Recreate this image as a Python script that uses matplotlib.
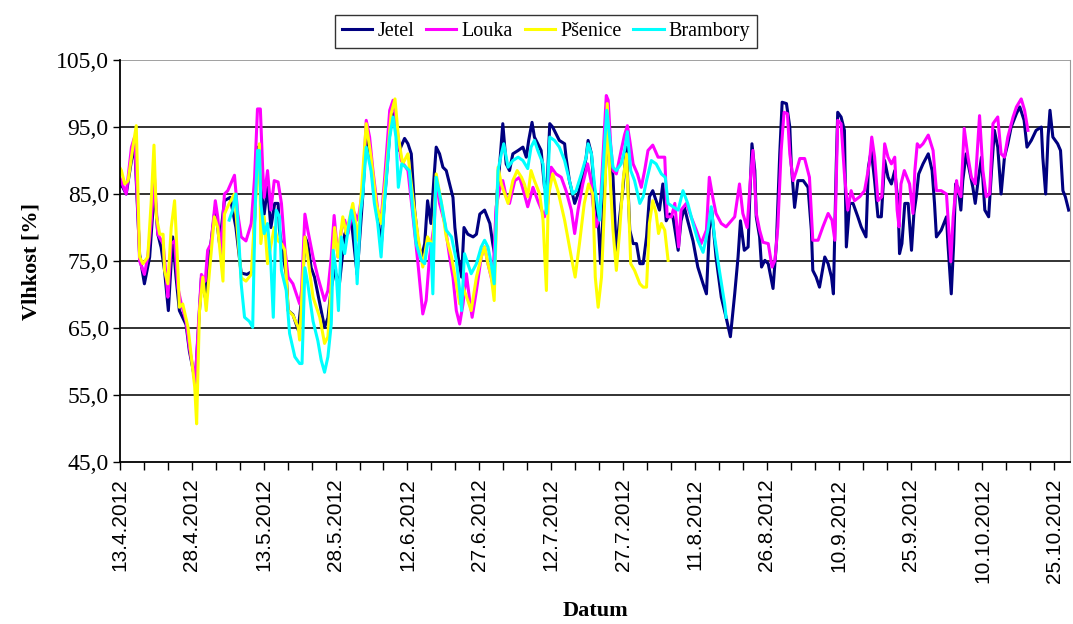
#!/usr/bin/env python3
"""
Vlhkost podle plodin - line chart, duben az rijen 2012.
"""

import datetime as dt
import matplotlib
matplotlib.use("Agg")
import matplotlib.pyplot as plt
import matplotlib.dates as mdates
from matplotlib.ticker import FixedLocator, FuncFormatter

# days are counted from 13.4.2012
start_date = dt.date(2012, 4, 13)

jetel_days = [0.0, 0.6, 1.3, 2.4, 3.05, 3.4, 4.1, 5.1, 6.2, 7.2, 7.9, 8.6, 9.3, 10.1, 11.0, 11.7, 12.4, 13.8, 14.5, 15.2,
              15.7, 16.3, 17.0, 17.8, 18.7, 19.9, 20.8, 21.8, 23.0, 24.2, 25.3, 26.5, 27.7, 28.3, 28.8, 29.4, 30.1, 30.8,
              31.5, 32.3, 33.0, 33.3, 34.0, 34.7, 35.1, 36.1, 37.2, 38.0, 38.6, 39.2, 39.9, 40.6, 42.0, 42.7, 43.4, 44.1,
              44.8, 45.8, 46.9, 48.3, 49.5, 50.7, 51.4, 52.4, 53.8, 54.5, 55.2, 56.3, 57.0, 57.6, 58.3, 59.4, 60.1, 60.8,
              61.5, 62.2, 62.9, 63.6, 64.2, 64.9, 65.5, 66.0, 66.7, 67.4, 68.1, 68.8, 69.5, 69.9, 70.6, 71.3, 71.8, 72.6,
              73.7, 74.4, 75.1, 76.1, 77.2, 77.8, 78.2, 78.7, 79.2, 79.9, 80.6, 81.3, 82.0, 83.1, 84.1, 84.8, 85.3, 86.0,
              86.5, 87.2, 87.9, 88.6, 89.2, 89.7, 90.3, 91.0, 91.7, 92.8, 93.1, 93.8, 94.9, 95.6, 96.6, 97.3, 97.7, 98.4,
              99.1, 99.8, 100.3, 100.8, 101.5, 102.2, 102.9, 103.6, 104.3, 105.0, 105.7, 106.4, 107.1, 107.8, 108.5,
              109.2, 109.9, 110.5, 111.2, 111.9, 112.6, 113.3, 114.0, 114.7, 115.4, 116.5, 117.1, 117.8, 118.5, 119.6,
              120.6, 121.7, 122.4, 123.0, 123.5, 124.4, 125.5, 126.5, 127.4, 128.3, 129.0, 129.5, 130.3, 131.1, 131.4,
              131.9, 132.5, 132.8, 133.5, 133.9, 134.6, 135.3, 136.3, 137.0, 137.7, 138.2, 139.1, 139.8, 140.1, 140.8,
              141.5, 142.6, 143.6, 144.3, 144.6, 145.3, 146.0, 147.1, 147.8, 148.5, 148.9, 149.5, 149.8, 150.5, 151.2,
              151.6, 152.3, 153.0, 154.0, 154.7, 155.7, 156.2, 156.8, 157.5, 158.2, 158.9, 159.6, 160.3, 161.0, 161.7,
              162.4, 162.7, 163.2, 163.8, 164.5, 165.2, 165.7, 166.2, 166.7, 167.6, 168.7, 169.5, 170.0, 170.4, 171.4,
              172.5, 172.8, 173.5, 174.0, 174.4, 174.9, 175.5, 175.9, 176.6, 177.3, 178.0, 178.5, 179.2, 179.8, 180.5,
              181.3, 181.9, 182.5, 183.2, 183.9, 184.6, 185.3, 186.0, 187.1, 187.8, 188.7, 189.3, 190.2, 191.2, 192.3,
              192.6, 193.2, 193.7, 194.1, 194.7, 195.7, 196.3, 196.8, 197.3, 198.0]
jetel_vals = [86.5, 86, 85, 90, 92.5, 87, 76, 71.6, 75.6, 86, 79, 77, 73.6, 67.6, 78.6, 72.6, 67.6, 65.5, 61.5, 59,
              57, 64, 72.5, 69.6, 76, 83, 77.5, 84, 84.5, 80, 73.2, 73, 73.5, 85, 92, 86, 82, 86,
              80, 83.6, 83.6, 79.6, 76, 73, 67.6, 67, 64.7, 70, 78.6, 77.6, 74, 72.6, 67.6, 65.1, 66.5, 71,
              73.6, 71.6, 79, 81, 73, 85, 94, 89, 82, 77, 84, 94, 97, 95, 91.5, 93.3, 92.5, 91,
              82.6, 78, 75.6, 77.6, 84, 80.6, 87, 92, 91, 89, 88.5, 86.5, 84.5, 80, 75.6, 72.6, 80, 79,
              78.6, 79, 82, 82.6, 80.6, 77.6, 76, 85, 89, 95.5, 89.5, 88.5, 91, 91.5, 92, 90.5, 93, 95.7,
              93.5, 92.5, 91.5, 86, 87, 95.5, 95, 94, 93, 92.5, 90.5, 87, 83.6, 85, 87.5, 90.5, 93, 91,
              84.6, 81.1, 74.6, 81.6, 91, 93, 87.5, 76.1, 81.6, 86, 92, 79.6, 77.6, 77.6, 74.6,
              74.6, 78.6, 84.6, 85.5, 84, 82.6, 86.5, 81, 82, 81.6, 76.6, 81, 83, 81, 78,
              74.1, 71.6, 70.1, 79.6, 82.6, 75.6, 69.6, 66.6, 63.7, 70.1, 75.6, 81, 76.6, 77.1, 83.6,
              92.5, 88.5, 81.6, 78.6, 74.1, 75.1, 74.6, 70.9, 77.6, 91, 98.7, 98.5, 95, 89.5, 83,
              87, 87, 86, 79.6, 73.6, 72.6, 71.1, 75.6, 74.6, 72.6, 70.1, 89.5, 97.2, 96.5, 94.5,
              77.1, 83.6, 83.6, 81.6, 80.1, 78.6, 89, 91.5, 87, 81.6, 81.6, 90, 87.5, 86.5, 88.5,
              83.6, 76.1, 77.6, 83.6, 83.6, 76.6, 82.1, 84.6, 88, 89.5, 91, 88.5, 83.6, 78.6, 79.6,
              81.6, 77.6, 70.1, 77.6, 86.5, 86, 82.6, 87, 91, 88.5, 86, 83.6, 87.5, 90.5, 82.6,
              81.6, 88.5, 94.5, 92, 85, 90.5, 92.5, 95, 97, 98, 96, 92, 93, 94.5, 95,
              90.5, 85, 93.5, 97.5, 93.5, 92.5, 91.5, 85.5, 84.6, 82.6]

louka_days = [0.0, 1.3, 2.4, 3.05, 3.75, 4.1, 5.1, 5.8, 6.5, 7.2, 7.9, 9.0, 9.65, 10.0, 10.7, 11.4, 12.1, 12.8, 13.8,
              14.5, 15.2, 15.7, 16.3, 17.0, 17.8, 18.3, 19.0, 19.9, 20.4, 21.1, 21.8, 22.5, 23.9, 24.6, 25.3, 26.3,
              27.4, 28.1, 28.7, 29.3, 29.8, 30.1, 30.8, 31.5, 32.2, 33.0, 33.7, 34.4, 35.1, 36.1, 36.8, 37.5, 37.9,
              38.6, 39.2, 40.3, 41.3, 42.7, 43.4, 44.1, 44.7, 45.5, 46.2, 46.9, 47.6, 48.6, 49.7, 50.7, 51.4, 52.1,
              52.8, 53.8, 54.5, 55.2, 56.3, 57.0, 57.6, 58.7, 60.1, 61.1, 62.2, 63.2, 63.9, 64.6, 65.6, 66.0, 66.7,
              67.8, 68.8, 69.5, 70.2, 70.9, 71.6, 72.3, 73.0, 73.5, 74.4, 75.4, 76.1, 76.8, 77.8, 78.5, 79.2, 79.9,
              80.6, 81.3, 82.4, 83.4, 84.4, 85.1, 86.2, 87.2, 88.6, 89.3, 90.0, 91.0, 92.1, 93.1, 94.2, 94.9, 95.6,
              96.6, 97.6, 98.3, 98.7, 99.4, 100.1, 100.8, 101.5, 101.9, 102.4, 102.9, 103.6, 104.6, 105.3, 105.9,
              106.4, 107.1, 108.0, 108.8, 109.5, 110.2, 111.2, 112.3, 113.7, 114.2, 115.1, 115.8, 116.6, 117.1,
              118.2, 119.2, 120.3, 121.3, 122.4, 123.0, 123.7, 124.4, 125.5, 126.5, 128.3, 129.3, 130.0, 130.9,
              131.6, 132.1, 132.8, 133.5, 134.2, 135.3, 136.1, 136.7, 137.3, 138.0, 138.6, 139.3, 139.8, 140.5,
              141.2, 141.9, 142.9, 143.9, 144.6, 145.7, 146.7, 147.8, 148.6, 149.2, 149.8, 150.5, 151.2, 151.9,
              152.6, 153.3, 154.4, 155.4, 156.4, 156.9, 157.5, 158.2, 159.0, 159.6, 160.3, 161.0, 161.7, 162.2,
              162.6, 163.0, 163.7, 164.8, 165.5, 165.9, 166.4, 166.9, 167.6, 168.7, 169.7, 170.4, 171.4, 172.5,
              173.4, 173.9, 174.6, 174.9, 175.5, 176.2, 177.0, 177.7, 178.5, 179.4, 180.1, 180.8, 181.5, 182.2,
              183.2, 183.9, 184.6, 185.3, 186.4, 187.1, 188.1, 188.8, 189.5]
louka_vals = [87.4, 85, 92, 93.5, 82, 75, 73, 75.6, 80.6, 87.5, 79, 77.6, 72.6, 69.6, 77.6, 78, 71, 68.6, 66,
              62, 59.2, 56.7, 64.6, 73, 72, 76.6, 77.6, 84, 81.6, 76, 85, 85.5, 87.8, 82, 78.6, 78,
              80.6, 87.5, 97.7, 97.7, 88.5, 84.5, 88.5, 82.6, 87, 86.8, 83.6, 77, 72.6, 71.6, 70.1, 68.6, 70.6,
              82, 79.6, 75.6, 72.6, 69.1, 70.6, 75.6, 81.8, 75.6, 79.6, 81.1, 79.1, 82.6, 81.1, 86, 96, 93.5,
              88.5, 82.6, 81.1, 87, 97.5, 99, 96, 90, 88.5, 82, 74.6, 67.1, 69.1, 75.6, 80.6, 87, 83.6,
              80.6, 75.6, 72.6, 67.6, 65.6, 68.6, 73.1, 69.1, 66.6, 70.6, 75.6, 77.1, 74.6, 71.6, 83.1, 85.5, 87,
              84.6, 83.6, 87, 87.5, 85, 83.1, 86, 84, 81.6, 83.6, 89, 88, 87.5, 85.5, 82.6, 79.1, 82.6,
              86.5, 89.5, 87, 83.6, 80.1, 81.6, 90.5, 99.7, 99, 92.5, 88.5, 88, 91.5, 93.8, 95.2,
              93, 89.5, 88, 86, 88.5, 91.5, 92.3, 90.5, 90.5, 81.6, 81.6, 83.6, 77.1, 82.6,
              83.6, 81.6, 79.6, 77.6, 79.6, 87.5, 84.6, 82.1, 80.6, 80.1, 81.6, 86.5, 82.1, 80,
              87.5, 91.5, 82.1, 79.6, 77.8, 77.6, 74.1, 75.1, 80.1, 91.5, 97.2, 97, 91, 87,
              88.5, 90.3, 90.3, 87.5, 78.1, 78.1, 80.1, 82.1, 81.1, 78.1, 96, 95.5, 88, 82.6,
              85.5, 84, 84.6, 85.5, 89.5, 93.5, 90.5, 84, 84.6, 92.5, 90.5, 89.5, 90.5, 82.6,
              80.1, 86.5, 88.5, 86.5, 82.1, 88.5, 92.5, 92, 92.5, 93.8, 91.5, 85.5, 85.5, 85,
              74.9, 81.6, 87, 85.5, 84.6, 94.8, 90.5, 87.5, 86.5, 96.7, 88.5, 84.6, 85, 95.5,
              96.5, 91, 90.5, 93.5, 96.5, 98, 99.2, 97.5, 94.5]

psenice_days = [0.0, 0.3, 1.0, 1.7, 2.7, 3.4, 4.1, 4.8, 5.8, 6.5, 7.1, 7.6, 8.3, 9.0, 9.3, 10.0, 10.7, 11.4, 12.1,
                12.4, 13.1, 14.2, 14.9, 15.6, 16.0, 16.6, 17.3, 18.0, 18.7, 19.7, 20.4, 21.5, 21.8, 22.8, 23.9,
                25.3, 26.3, 27.4, 28.1, 29.1, 29.4, 30.1, 30.8, 32.2, 33.0, 33.7, 34.4, 35.1, 36.1, 37.2, 37.5,
                38.6, 39.2, 40.3, 41.7, 42.7, 43.4, 44.1, 44.8, 45.5, 46.5, 47.2, 48.6, 49.7, 50.7, 51.4, 52.4,
                53.5, 54.5, 55.6, 56.6, 57.4, 58.1, 59.0, 60.1, 61.1, 62.2, 63.2, 64.2, 65.3, 66.0, 67.1, 68.1,
                69.2, 70.2, 70.9, 71.6, 72.6, 73.3, 74.4, 75.4, 76.1, 76.8, 77.5, 78.1, 78.9, 79.6, 80.3, 81.0,
                82.0, 82.9, 83.8, 84.4, 85.1, 85.8, 86.5, 87.6, 88.3, 89.0, 89.4, 90.3, 91.4, 92.8, 94.2, 95.0,
                95.9, 96.9, 97.8, 98.7, 99.2, 99.8, 100.5, 101.2, 101.7, 102.2, 102.9, 103.6, 104.3, 105.0, 105.7,
                106.2, 106.6, 107.4, 108.5, 109.2, 109.9, 110.5, 111.2, 111.9, 112.4, 113.0, 113.7, 114.4]
psenice_vals = [88.9, 88.5, 86.5, 87, 92, 95.2, 75.6, 74.6, 75.6, 83.6, 92.3, 81.6, 79, 79, 73.6, 71.6, 80, 84, 73.6,
                68.1, 68.6, 65.1, 60.7, 56.2, 50.7, 67.6, 72.6, 67.6, 73.6, 81.6, 80, 72, 82, 83.6, 85,
                72.5, 72, 73, 81.6, 92.5, 77.6, 81.6, 74.6, 80, 78, 77.6, 76.6, 67.6, 66.9, 65.1, 63.2,
                78.6, 75.6, 69.6, 66.6, 62.7, 63.7, 71.6, 80, 75.6, 81.6, 79.1, 83.6, 78.1, 88.5, 95.5, 90.5,
                83.6, 80.6, 88.5, 97, 99.2, 93.5, 89.5, 91, 84.6, 78.6, 74.1, 78.6, 77.1, 88, 83.6, 78.6,
                75.6, 71.6, 68.6, 71.1, 69.1, 67.6, 72.6, 75.6, 77.1, 74.6, 72.6, 69.1, 89, 86.5, 85, 83.6,
                87, 88.5, 87.5, 86.5, 84.6, 88.5, 87, 85, 81.1, 70.6, 84.6, 88, 85.5, 81.1, 75.6, 72.6,
                77.6, 83.6, 86.5, 85, 72.6, 68.1, 72.6, 84.6, 98.5, 88.5, 79.6, 73.6, 79.6, 87, 91,
                82.6, 74.6, 73.6, 71.6, 71.1, 71.1, 80.6, 84, 82.1, 79.1, 80.6, 79.6, 75.1]

brambory_days = [22.8, 23.5, 24.2, 24.6, 25.3, 26.0, 27.0, 27.7, 28.2, 28.7, 29.1, 29.4, 30.1, 30.8, 31.5, 32.0, 32.6,
                 33.3, 33.7, 34.7, 35.4, 36.5, 37.5, 38.0, 38.6, 39.2, 40.3, 41.3, 42.0, 42.7, 43.4, 44.1, 44.5,
                 45.1, 45.6, 46.2, 46.9, 47.7, 48.3, 49.0, 49.5, 50.2, 50.7, 51.4, 52.4, 53.1, 53.8, 54.5, 55.2,
                 56.3, 57.0, 57.6, 58.1, 58.8, 59.7, 60.4, 61.1, 61.8, 62.9, 63.6, 64.2, 64.9, 65.3, 65.7, 66.0,
                 67.1, 68.1, 69.2, 70.2, 70.9, 71.3, 71.9, 72.6, 73.3, 74.4, 75.4, 76.1, 76.8, 77.5, 78.1, 78.9,
                 79.6, 80.1, 81.0, 82.0, 83.1, 84.1, 85.1, 85.8, 86.5, 87.2, 88.3, 89.0, 89.7, 90.7, 91.7, 92.8,
                 93.8, 94.5, 95.2, 96.3, 97.3, 97.7, 98.4, 99.1, 100.1, 100.8, 101.6, 102.2, 102.9, 103.6, 104.6,
                 105.3, 105.9, 106.6, 107.4, 108.5, 109.2, 109.9, 110.9, 111.9, 113.0, 113.8, 114.4, 115.4, 116.5,
                 117.5, 118.5, 119.6, 120.6, 121.7, 122.7, 123.4, 124.1, 125.1, 126.2, 126.5]
brambory_vals = [81.1, 82.6, 85, 81.1, 71.6, 66.6, 66, 65.1, 82.6, 91.5, 91.5, 83.6, 79.1, 80.6, 74.6, 66.6, 82.6,
                 81.6, 73.6, 70.6, 64.2, 60.7, 59.7, 59.7, 74, 71.6, 66, 63.1, 60.2, 58.4, 60.7, 65.6, 76.6,
                 73.6, 67.6, 78.6, 76.1, 80.1, 82.6, 80.1, 71.6, 82.1, 85, 92, 88.5, 83.6, 80.6, 75.6, 83.6,
                 93.5, 96.5, 93.5, 86, 89.5, 89, 88.5, 82.6, 77.6, 75.1, 74.6, 77.6, 77.6, 70.1, 82.6, 87.5,
                 83.6, 79.6, 78.6, 75.1, 70.6, 67.6, 76.1, 74.6, 73.1, 74.6, 77.1, 78.1, 77.1, 74.6, 71.6, 88.5,
                 91, 92.5, 89, 90, 90.5, 90, 88.8, 92, 93, 91.5, 89.5, 82.1, 93.5, 93, 92, 90,
                 87, 85, 85.5, 88, 90.5, 92.5, 91, 86, 81.1, 88.5, 97.5, 93.5, 89, 88.5, 89.5,
                 91.5, 94.3, 88.5, 87, 83.6, 84.6, 87, 90, 89.5, 88, 87.5, 83.6, 83.1, 82.6,
                 85.5, 83.6, 80.6, 78.1, 76.3, 79.6, 83.1, 78.6, 73.6, 68.6, 66.6]

series_names = ["Jetel", "Louka", "Pšenice", "Brambory"]
series_colors = ["#000080", "#FF00FF", "#FFFF00", "#00FFFF"]
y_ticks = [45, 55, 65, 75, 85, 95, 105]
label_step_days = 15
tick_step_days = 5

serif = "Liberation Serif"
sans = "Liberation Sans"


def to_num(days):
    base = mdates.date2num(start_date)
    return [base + d for d in days]


fig = plt.figure(figsize=(10.73, 6.24), dpi=100)
ax = fig.add_axes([0.1118, 0.2596, 0.8855, 0.6442])

all_series = [(jetel_days, jetel_vals), (louka_days, louka_vals),
              (psenice_days, psenice_vals), (brambory_days, brambory_vals)]
for (days, vals), name, color in zip(all_series, series_names, series_colors):
    ax.plot(to_num(days), vals, color=color, linewidth=2.2, label=name)

base = mdates.date2num(start_date)
ax.set_xlim(base, base + 198.3)
ax.set_ylim(45, 105)

# horizontal gridlines like Excel
for y in y_ticks[1:-1]:
    ax.axhline(y, color="#222222", linewidth=1.3, zorder=0)
ax.axhline(105, color="#999999", linewidth=1.3, zorder=0)

major = [base + d for d in range(0, 199, label_step_days)]
minor = [base + d for d in range(0, 199, tick_step_days)]
ax.xaxis.set_major_locator(FixedLocator(major))
ax.xaxis.set_minor_locator(FixedLocator(minor))


def date_label(x, pos):
    d = mdates.num2date(x)
    return f"{d.day}.{d.month}.{d.year}"


ax.xaxis.set_major_formatter(FuncFormatter(date_label))
ax.yaxis.set_major_locator(FixedLocator(y_ticks))
ax.yaxis.set_major_formatter(FuncFormatter(lambda v, p: f"{v:.1f}".replace(".", ",")))

ax.tick_params(axis="x", which="both", direction="out", length=6, width=1, color="black")
ax.tick_params(axis="x", which="major", labelrotation=90, labelsize=15, pad=6)
ax.tick_params(axis="y", direction="out", length=5, width=1, labelsize=17, pad=3)
for lbl in ax.get_xticklabels():
    lbl.set_fontfamily(sans)
for lbl in ax.get_yticklabels():
    lbl.set_fontfamily(serif)

ax.spines["left"].set_color("black")
ax.spines["bottom"].set_color("black")
ax.spines["left"].set_linewidth(1.3)
ax.spines["bottom"].set_linewidth(1.3)
ax.spines["top"].set_visible(False)
ax.spines["right"].set_color("#999999")

ax.set_ylabel("Vlhkost [%]", fontfamily=serif, fontweight="bold", fontsize=16, labelpad=10)
fig.text(0.555, 0.005, "Datum", fontfamily=serif, fontweight="bold", fontsize=16, ha="center", va="bottom")

leg = fig.legend(loc="center", bbox_to_anchor=(0.509, 0.95), ncol=4, frameon=True, fancybox=False,
                 edgecolor="black", prop={"family": serif, "size": 14.5}, handlelength=1.5,
                 handletextpad=0.25, columnspacing=0.6, borderpad=0.35)
leg.get_frame().set_linewidth(1.0)

fig.savefig("out.png", dpi=100)
